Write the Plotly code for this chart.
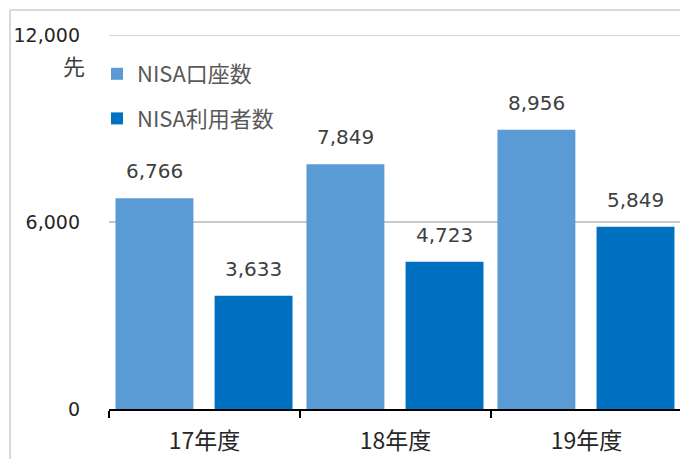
import plotly.graph_objects as go

categories = ["17年度", "18年度", "19年度"]
series_names = ["NISA口座数", "NISA利用者数"]
nisa_accounts = [6766, 7849, 8956]
nisa_users = [3633, 4723, 5849]
y_ticks = [0, 6000, 12000]
unit_label = "先"

colors = ["#5B9BD5", "#0070C0"]
offsets = [-0.466, 0.053]
bar_width = 0.408
shifts_px = [-50.1, 49.1]
CJK = "Noto Sans CJK JP"
NUM = "DejaVu Sans"
GRID = "#c8c8c8"

fig = go.Figure()
for name, vals, col, off in zip(series_names, [nisa_accounts, nisa_users], colors, offsets):
    fig.add_trace(go.Bar(
        x=categories, y=vals, name=name, legendgroup=name,
        marker=dict(color=col, line=dict(width=0)),
        width=bar_width, offset=off,
    ))

annotations = []
for vals, sh in zip([nisa_accounts, nisa_users], shifts_px):
    for c, v in zip(categories, vals):
        annotations.append(dict(
            x=c, y=v, xref="x", yref="y", text=f"{v:,}", showarrow=False,
            xshift=sh, yshift=27, yanchor="middle", xanchor="center",
            font=dict(family=NUM, size=20, color="#404040"),
        ))
annotations.append(dict(
    x=(74 - 109) / 571, y=1 - (65 - 35) / 374, xref="paper", yref="paper",
    text=unit_label, showarrow=False, xanchor="center", yanchor="middle",
    font=dict(family=CJK, size=22, color="#404040"),
))

shapes = [
    dict(type="line", xref="paper", yref="paper",
         x0=(10 - 109) / 571, x1=(10 - 109) / 571, y0=1 + 25 / 374, y1=-0.3,
         line=dict(color="#d9d9d9", width=2)),
    dict(type="line", xref="paper", yref="paper",
         x0=(10 - 109) / 571, x1=1.2, y0=1 + 25 / 374, y1=1 + 25 / 374,
         line=dict(color="#d9d9d9", width=2)),
    dict(type="line", xref="paper", yref="y",
         x0=0, x1=1, y0=y_ticks[-1], y1=y_ticks[-1], layer="below",
         line=dict(color=GRID, width=1.5)),
]

fig.update_layout(
    width=680, height=459,
    margin=dict(l=109, r=0, t=35, b=50),
    paper_bgcolor="white", plot_bgcolor="white",
    barmode="group",
    font=dict(family=CJK, size=18, color="#404040"),
    showlegend=True,
    legend=dict(
        x=(97 - 109) / 571, y=1 - (53 - 35) / 374, xanchor="left", yanchor="top",
        font=dict(family=CJK, size=22, color="#595959"),
        tracegroupgap=13, bgcolor="rgba(0,0,0,0)",
        itemwidth=30,
    ),
    annotations=annotations,
    shapes=shapes,
)
fig.update_xaxes(
    type="category", range=[-0.5, 2.49],
    showline=True, linecolor="black", linewidth=1.5,
    ticks="outside", tickson="boundaries", ticklen=7, tickcolor="black", tickwidth=1.5,
    tickfont=dict(family=CJK, size=23, color="#262626"),
    ticklabelstandoff=11,
    showgrid=False,
)
fig.update_yaxes(
    range=[0, 12000], tickvals=y_ticks, tickformat=",",
    showline=False, zeroline=False,
    gridcolor=GRID, gridwidth=1.5,
    ticks="", ticklabelstandoff=28,
    tickfont=dict(family=NUM, size=19, color="#262626"),
)

fig.write_html(
    "out.html",
    config={"displayModeBar": False},
    post_script="document.body.style.margin='0';document.body.style.overflow='hidden';",
)
